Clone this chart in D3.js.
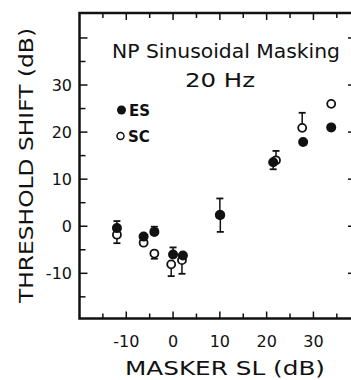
<!DOCTYPE html>
<html>
<head>
<meta charset="utf-8">
<script src="https://cdn.jsdelivr.net/npm/d3@7"></script>
<style>
  html, body { margin: 0; padding: 0; background: #fff; }
  svg { display: block; }
  text { font-family: "DejaVu Sans", sans-serif; fill: #111; }
</style>
</head>
<body>
<svg id="chart" width="351" height="380"></svg>
<script>
// ---- Data ----
const esX  = [-12, -6.3, -4, 0, 2.1, 10, 21.4, 27.8, 33.8];
const esY  = [-0.4, -2.2, -1.2, -6, -6.2, 2.4, 13.6, 17.9, 21];
const esHi = [1.1, null, -0.1, -4.5, null, 5.9, null, null, null];   // upper error caps
const esLo = [null, null, null, null, null, null, 12.1, null, null]; // lower error caps

const scX  = [-12, -6.3, -4, -0.4, 1.9, 10.1, 22, 27.6, 33.8];
const scY  = [-1.8, -3.5, -5.8, -8.1, -7.2, 2.4, 14, 20.9, 26];
const scHi = [null, null, null, null, null, null, 16, 24.1, null];
const scLo = [-3.6, null, -6.9, -10.6, -10.1, -1.2, null, null, null];

const xTickLabels = [-10, 0, 10, 20, 30];
const yTickLabels = [-10, 0, 10, 20, 30];
const xMinorTicks = [-15, -10, -5, 0, 5, 10, 15, 20, 25, 30, 35];
const yMinorTicks = [-15, -10, -5, 0, 5, 10, 15, 20, 25, 30, 35, 40];

const titleText = "NP Sinusoidal Masking";
const subtitleText = "20 Hz";
const xLabel = "MASKER SL (dB)";
const yLabel = "THRESHOLD SHIFT (dB)";
const seriesNames = ["ES", "SC"];

// ---- Layout ----
const svg = d3.select("#chart");
const pL = 79.5, pR = 356, pT = 13, pB = 318.5;
const x = d3.scaleLinear().domain([-20, 39.1]).range([pL, pR]);
const y = d3.scaleLinear().domain([-19.6, 45.3]).range([pB, pT]);

const g = svg.append("g");

// Frame
g.append("rect")
  .attr("x", pL).attr("y", pT)
  .attr("width", pR - pL).attr("height", pB - pT)
  .attr("fill", "none").attr("stroke", "#111").attr("stroke-width", 2.5);

// Ticks (inward) — bottom & top
const isMajor = v => v % 10 === 0;
g.selectAll(".bt").data(xMinorTicks).join("line")
  .attr("x1", d => x(d)).attr("x2", d => x(d))
  .attr("y1", pB).attr("y2", d => pB - (isMajor(d) ? 7 : 5))
  .attr("stroke", "#111").attr("stroke-width", 1.5);
g.selectAll(".tt").data(xMinorTicks).join("line")
  .attr("x1", d => x(d)).attr("x2", d => x(d))
  .attr("y1", pT).attr("y2", d => pT + (isMajor(d) ? 7 : 5))
  .attr("stroke", "#111").attr("stroke-width", 1.5);
// left & right
g.selectAll(".lt").data(yMinorTicks).join("line")
  .attr("x1", pL).attr("x2", d => pL + (isMajor(d) ? 8 : 6))
  .attr("y1", d => y(d)).attr("y2", d => y(d))
  .attr("stroke", "#111").attr("stroke-width", 1.5);
g.selectAll(".rt").data(yMinorTicks).join("line")
  .attr("x1", pR).attr("x2", d => pR - (isMajor(d) ? 8 : 4))
  .attr("y1", d => y(d)).attr("y2", d => y(d))
  .attr("stroke", "#111").attr("stroke-width", 1.5);

// Tick labels
g.selectAll(".xl").data(xTickLabels).join("text")
  .attr("x", d => x(d)).attr("y", 346.5)
  .attr("text-anchor", "middle").attr("font-size", 16)
  .text(d => d);
g.selectAll(".yl").data(yTickLabels).join("text")
  .attr("x", 72).attr("y", d => y(d) + 6)
  .attr("text-anchor", "end").attr("font-size", 16)
  .text(d => d);

// Axis titles
svg.append("text")
  .attr("x", 225).attr("y", 375)
  .attr("text-anchor", "middle").attr("font-size", 19)
  .attr("textLength", 200).attr("lengthAdjust", "spacingAndGlyphs")
  .text(xLabel);
svg.append("text")
  .attr("transform", "translate(33,165.5) rotate(-90)")
  .attr("text-anchor", "middle").attr("font-size", 20)
  .attr("textLength", 275).attr("lengthAdjust", "spacingAndGlyphs")
  .text(yLabel);

// Title
svg.append("text")
  .attr("x", 226).attr("y", 58)
  .attr("text-anchor", "middle").attr("font-size", 19)
  .attr("textLength", 228).attr("lengthAdjust", "spacingAndGlyphs")
  .text(titleText);
svg.append("text")
  .attr("x", 220).attr("y", 87)
  .attr("text-anchor", "middle").attr("font-size", 19)
  .attr("textLength", 70).attr("lengthAdjust", "spacingAndGlyphs")
  .text(subtitleText);

// Error bars
function errBars(xs, ys, caps, cls) {
  const d = xs.map((v, i) => ({ x: v, y: ys[i], c: caps[i] })).filter(e => e.c !== null);
  const eg = g.append("g").attr("class", cls);
  eg.selectAll("line.s").data(d).join("line")
    .attr("x1", e => x(e.x)).attr("x2", e => x(e.x))
    .attr("y1", e => y(e.y)).attr("y2", e => y(e.c))
    .attr("stroke", "#111").attr("stroke-width", 1.5);
  eg.selectAll("line.c").data(d).join("line")
    .attr("x1", e => x(e.x) - 3.5).attr("x2", e => x(e.x) + 3.5)
    .attr("y1", e => y(e.c)).attr("y2", e => y(e.c))
    .attr("stroke", "#111").attr("stroke-width", 1.8);
}
errBars(scX, scY, scLo, "sclo");
errBars(scX, scY, scHi, "schi");
errBars(esX, esY, esHi, "eshi");
errBars(esX, esY, esLo, "eslo");

// SC open circles
g.selectAll("circle.sc").data(scX.map((v, i) => [v, scY[i]])).join("circle")
  .attr("class", "sc")
  .attr("cx", d => x(d[0])).attr("cy", d => y(d[1])).attr("r", 4)
  .attr("fill", "#fff").attr("stroke", "#111").attr("stroke-width", 1.8);
// ES filled circles
g.selectAll("circle.es").data(esX.map((v, i) => [v, esY[i]])).join("circle")
  .attr("class", "es")
  .attr("cx", d => x(d[0])).attr("cy", d => y(d[1])).attr("r", 5)
  .attr("fill", "#111");

// Legend
const lg = svg.append("g");
lg.append("circle").attr("cx", 121.5).attr("cy", 110).attr("r", 4.5).attr("fill", "#111");
lg.append("text").attr("x", 129).attr("y", 115.5).attr("font-size", 15).attr("font-weight", "bold")
  .text(seriesNames[0]);
lg.append("circle").attr("cx", 120.5).attr("cy", 136).attr("r", 3.5)
  .attr("fill", "#fff").attr("stroke", "#111").attr("stroke-width", 1.5);
lg.append("text").attr("x", 128).attr("y", 141.5).attr("font-size", 15).attr("font-weight", "bold")
  .text(seriesNames[1]);
</script>
</body>
</html>
